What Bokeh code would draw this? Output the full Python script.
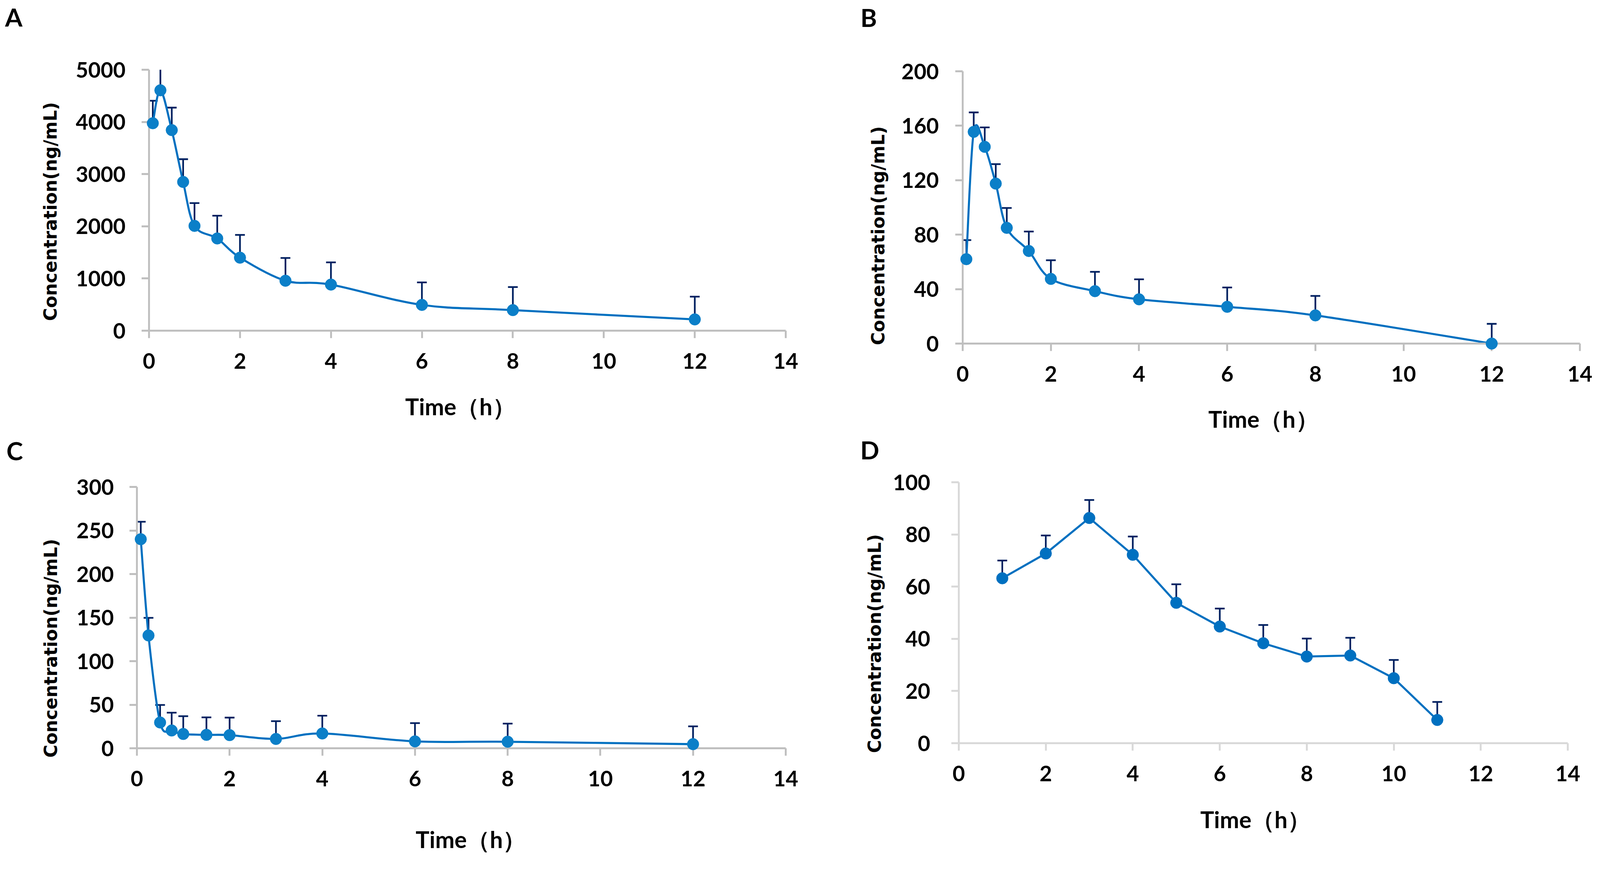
import numpy as np
from bokeh.plotting import figure
from bokeh.layouts import column, row
from bokeh.models import Range1d, FixedTicker, Whisker, TeeHead, ColumnDataSource
from bokeh.core.properties import value
from bokeh.embed import file_html
from bokeh.resources import INLINE

# ---------------- data ----------------
time_abc = [0.083, 0.25, 0.5, 0.75, 1, 1.5, 2, 3, 4, 6, 8, 12]
conc_a = [3975, 4606, 3843, 2850, 2008, 1767, 1399, 957, 883, 494, 394, 216]
sd_a = [431, 435, 431, 436, 437, 436, 436, 436, 426, 431, 442, 436]
conc_b = [62, 155.5, 144.5, 117.5, 85, 68, 47.5, 38.5, 32.5, 27, 20.7, 0]
sd_b = [14, 14.3, 14.3, 14.3, 14.6, 14.3, 13.7, 14.2, 14.7, 14.2, 14.3, 14.5]
conc_c = [240, 129.5, 29.6, 20.4, 16.4, 15.4, 15.1, 10.7, 17, 7.9, 7.5, 4.7]
sd_c = [20, 20.2, 20.1, 20.5, 20.4, 20.1, 20.1, 20.4, 20.4, 21, 20.8, 20.5]
time_d = [1, 2, 3, 4, 5, 6, 7, 8, 9, 10, 11]
conc_d = [63.2, 72.7, 86.3, 72.2, 53.8, 44.7, 38.3, 33.2, 33.6, 24.9, 8.9]
sd_d = [6.8, 6.9, 6.9, 7.0, 7.1, 6.9, 7.0, 6.9, 6.8, 7.0, 6.9]

x_ticks = [0, 2, 4, 6, 8, 10, 12, 14]
y_ticks_a = [0, 1000, 2000, 3000, 4000, 5000]
y_ticks_b = [0, 40, 80, 120, 160, 200]
y_ticks_c = [0, 50, 100, 150, 200, 250, 300]
y_ticks_d = [0, 20, 40, 60, 80, 100]

panel_letters = ["A", "B", "C", "D"]
x_title = "Time（h）"
y_title = "Concentration(ng/mL)"

LINE = "#0070c0"
ERR = "#002060"
XMAX = 14
S = 1.039  # rendered pixels per CSS pixel (measured)


def c(v):
    return v / S


def smooth_segments(xs, ys):
    n = len(xs)
    pts = list(zip(xs, ys))
    out = {k: [] for k in ["x0", "y0", "x1", "y1", "cx0", "cy0", "cx1", "cy1"]}
    for i in range(n - 1):
        p0 = pts[i - 1] if i > 0 else pts[i]
        p1 = pts[i]
        p2 = pts[i + 1]
        p3 = pts[i + 2] if i + 2 < n else pts[i + 1]
        out["x0"].append(p1[0]); out["y0"].append(p1[1])
        out["x1"].append(p2[0]); out["y1"].append(p2[1])
        out["cx0"].append(p1[0] + (p2[0] - p0[0]) / 6.0)
        out["cy0"].append(p1[1] + (p2[1] - p0[1]) / 6.0)
        out["cx1"].append(p2[0] - (p3[0] - p1[0]) / 6.0)
        out["cy1"].append(p2[1] - (p3[1] - p1[1]) / 6.0)
    return out


def make_panel(xs, ys, sds, ymax, yticks, smooth, letter, geom, axis_color,
               marker_color, y_standoff, letter_pos, xt_pos, yt_pos):
    left, fw, right, top, fh, bottom = geom
    p = figure(frame_width=fw, frame_height=fh,
               min_border_left=left, min_border_right=right,
               min_border_top=top, min_border_bottom=bottom,
               x_range=Range1d(0, XMAX), y_range=Range1d(0, ymax),
               output_backend="svg", toolbar_location=None)
    p.outline_line_color = None
    p.xgrid.visible = False
    p.ygrid.visible = False
    p.background_fill_color = "white"
    p.border_fill_color = "white"

    for ax, ticks in ((p.xaxis[0], x_ticks), (p.yaxis[0], yticks)):
        ax.ticker = FixedTicker(ticks=ticks)
        ax.axis_line_color = axis_color
        ax.axis_line_width = c(5)
        ax.major_tick_line_color = axis_color
        ax.major_tick_line_width = c(5)
        ax.major_tick_out = 19
        ax.major_tick_in = 0
        ax.minor_tick_line_color = None
        ax.major_label_text_font = "Lato"
        ax.major_label_text_font_style = "bold"
        ax.major_label_text_font_size = "55px"
        ax.major_label_text_color = "black"
    p.yaxis[0].major_label_standoff = y_standoff
    p.xaxis[0].major_label_standoff = 38

    upper = [y + s for y, s in zip(ys, sds)]
    src = ColumnDataSource(dict(x=xs, y=ys, upper=upper))
    w = Whisker(base="x", lower="y", upper="upper", source=src,
                line_color=ERR, line_width=c(4.5),
                upper_head=TeeHead(size=c(26), line_color=ERR, line_width=c(4.5)),
                lower_head=None)
    p.add_layout(w)

    if smooth:
        seg = smooth_segments(xs, ys)
        p.bezier(x0="x0", y0="y0", x1="x1", y1="y1", cx0="cx0", cy0="cy0",
                 cx1="cx1", cy1="cy1", source=ColumnDataSource(seg),
                 line_color=LINE, line_width=c(5.5))
    else:
        p.line(x="x", y="y", source=src, line_color=LINE, line_width=c(5.5))

    m = p.scatter(x="x", y="y", source=src, size=c(31), marker="circle",
                  fill_color=marker_color, line_color=marker_color)
    m.level = "overlay"

    # pixel offsets (reference px, from the frame's bottom-left corner) -> data units
    kx = XMAX / fw
    ky = ymax / fh

    def add_text(pos, txt, font, size, align, angle=0.0):
        r = p.text(x=[c(pos[0]) * kx], y=[c(pos[1]) * ky], text=[txt],
                   text_font=value(font), text_font_style="bold",
                   text_font_size=value(size), text_color="black",
                   text_align=align, text_baseline="middle", angle=angle)
        r.level = "overlay"

    add_text(letter_pos, letter, "Lato", "64px", "left")
    add_text(xt_pos, x_title, "Lato", "59px", "center")
    add_text(yt_pos, y_title, "DejaVu Sans", "45.3px", "center", np.pi / 2)
    return p


# geometry in CSS px: (left border, frame width, right border, top border, frame height, bottom border)
pA = make_panel(time_abc, conc_a, sd_a, 5000, y_ticks_a, True, panel_letters[0],
                (381, 1630, 36, 178, 668, 262), "#bfbfbf", "#0b7fc8", 41,
                (-383, 834), (828, -202), (-262, 317))
pB = make_panel(time_abc, conc_b, sd_b, 200, y_ticks_b, True, panel_letters[1],
                (417, 1580, 43, 182, 697, 229), "#bfbfbf", "#0b7fc8", 42,
                (-272, 868), (800, -201), (-224, 287))
pC = make_panel(time_abc, conc_c, sd_c, 300, y_ticks_c, True, panel_letters[2],
                (350, 1661, 36, 138, 669, 269), "#bfbfbf", "#0b7fc8", 40,
                (-347, 792), (888, -242), (-229, 266))
pD = make_panel(time_d, conc_d, sd_d, 100, y_ticks_d, False, panel_letters[3],
                (407, 1559, 74, 126, 668, 282), "#d9d9d9", "#0070c0", 54,
                (-262, 780), (789, -203), (-223, 265))

layout = column(row(column(pA), column(pB), spacing=0),
                row(column(pC), column(pD), spacing=0), spacing=0)
open("out.html", "w").write(file_html(layout, INLINE))
